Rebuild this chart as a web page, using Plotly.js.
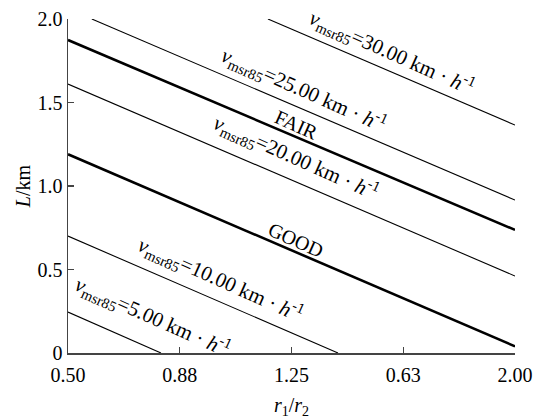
<!DOCTYPE html>
<html>
<head>
<meta charset="utf-8">
<script src="https://cdn.plot.ly/plotly-3.0.1.min.js"></script>
<style>html,body{margin:0;padding:0;background:#fff}</style>
</head>
<body>
<div id="chart" style="width:542px;height:419px"></div>
<script>
// x tick positions and (as printed) labels
const xTickVals = [0.5, 0.875, 1.25, 1.625, 2.0];
const xTickText = ['0.50', '0.88', '1.25', '0.63', '2.00'];
const yTickVals = [0, 0.5, 1.0, 1.5, 2.0];
const yTickText = ['0', '0.5', '1.0', '1.5', '2.0'];

// lines: [x start, x end], [y start, y end]
const v30x = [1.171, 2.0],  v30y = [2.0, 1.365];
const v25x = [0.58, 2.0],   v25y = [2.0, 0.916];
const fairX = [0.5, 2.0],   fairY = [1.874, 0.737];
const v20x = [0.5, 2.0],    v20y = [1.61, 0.461];
const goodX = [0.5, 2.0],   goodY = [1.19, 0.04];
const v10x = [0.5, 1.406],  v10y = [0.70, 0.0];
const v5x = [0.5, 0.812],   v5y = [0.245, 0.0];

// labels
const labelText = [
  '<i>v</i><sub>msr85</sub>=30.00 km · <i>h</i><sup>-1</sup>',
  '<i>v</i><sub>msr85</sub>=25.00 km · <i>h</i><sup>-1</sup>',
  'FAIR',
  '<i>v</i><sub>msr85</sub>=20.00 km · <i>h</i><sup>-1</sup>',
  'GOOD',
  '<i>v</i><sub>msr85</sub>=10.00 km · <i>h</i><sup>-1</sup>',
  '<i>v</i><sub>msr85</sub>=5.00 km · <i>h</i><sup>-1</sup>'
];
const labelX = [1.587, 1.289, 1.268, 1.265, 1.265, 1.013, 0.782];
const labelY = [1.80, 1.575, 1.365, 1.168, 0.677, 0.443, 0.216];

const FONT = 'Liberation Serif, Times New Roman, serif';
const thin = {color: '#000', width: 1.1};
const thick = {color: '#000', width: 2.6};

const traces = [
  {x: v30x, y: v30y, line: thin},
  {x: v25x, y: v25y, line: thin},
  {x: fairX, y: fairY, line: thick},
  {x: v20x, y: v20y, line: thin},
  {x: goodX, y: goodY, line: thick},
  {x: v10x, y: v10y, line: thin},
  {x: v5x, y: v5y, line: thin}
].map(t => Object.assign({type: 'scatter', mode: 'lines', hoverinfo: 'skip', showlegend: false}, t));

const annotations = labelText.map((t, i) => ({
  x: labelX[i], y: labelY[i], xref: 'x', yref: 'y',
  text: t, showarrow: false, textangle: 24,
  font: {family: FONT, size: i === 2 || i === 4 ? 20 : 21, color: '#000'}
}));

const layout = {
  width: 542, height: 419,
  margin: {l: 68, r: 27, t: 19, b: 66},
  paper_bgcolor: '#fff', plot_bgcolor: '#fff',
  font: {family: FONT, size: 20, color: '#000'},
  xaxis: {
    range: [0.5, 2.0], tickmode: 'array', tickvals: xTickVals, ticktext: xTickText,
    ticks: 'inside', ticklen: 6, tickwidth: 1.2, tickcolor: '#444',
    showline: true, linecolor: '#444', linewidth: 1.5, mirror: false,
    showgrid: false, zeroline: false, ticklabelstandoff: 3,
    tickfont: {family: FONT, size: 20, color: '#000'},
    title: {text: '<i>r</i><sub>1</sub>/<i>r</i><sub>2</sub>', font: {family: FONT, size: 20}, standoff: 14}
  },
  yaxis: {
    range: [0, 2.0], tickmode: 'array', tickvals: yTickVals, ticktext: yTickText,
    ticks: 'inside', ticklen: 6, tickwidth: 1.2, tickcolor: '#444',
    showline: true, linecolor: '#444', linewidth: 1.5, mirror: false,
    showgrid: false, zeroline: false,
    tickfont: {family: FONT, size: 20, color: '#000'},
    title: {text: '<i>L</i>/km', font: {family: FONT, size: 20}, standoff: 1}
  },
  annotations: annotations
};

Plotly.newPlot('chart', traces, layout, {staticPlot: true, displayModeBar: false});
</script>
</body>
</html>
